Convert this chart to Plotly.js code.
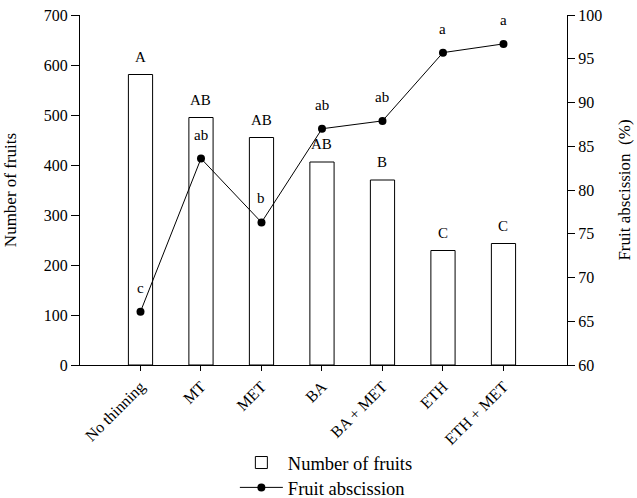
<!DOCTYPE html>
<html>
<head>
<meta charset="utf-8">
<script src="https://cdn.plot.ly/plotly-3.0.1.min.js"></script>
<style>html,body{margin:0;padding:0;background:#fff;}#chart{width:637px;height:498px;}</style>
</head>
<body>
<div id="chart"></div>
<script>
const categories = ['No thinning', 'MT', 'MET', 'BA', 'BA + MET', 'ETH', 'ETH + MET'];
const numberOfFruits = [581, 495, 455, 406, 370, 229, 243];
const fruitAbscission = [66.1, 83.6, 76.3, 87.0, 87.9, 95.7, 96.7];
const fruitLetters = ['A', 'AB', 'AB', 'AB', 'B', 'C', 'C'];
const abscissionLetters = ['c', 'ab', 'b', 'ab', 'ab', 'a', 'a'];
const leftTicks = [0, 100, 200, 300, 400, 500, 600, 700];
const rightTicks = [60, 65, 70, 75, 80, 85, 90, 95, 100];

const FONT = 'Liberation Serif, Times New Roman, serif';
const xIdx = categories.map((c, i) => i);

const traces = [
  {
    type: 'bar', x: xIdx, y: numberOfFruits, name: 'Number of fruits',
    width: 0.4, yaxis: 'y', legend: 'legend',
    marker: {color: '#ffffff', line: {color: '#000000', width: 1}}
  },
  {
    type: 'scatter', mode: 'lines+markers', x: xIdx, y: fruitAbscission,
    name: 'Fruit abscission', yaxis: 'y2', legend: 'legend2',
    line: {color: '#000000', width: 1},
    marker: {color: '#000000', size: 8}
  }
];

const annotations = [];
xIdx.forEach((xi, i) => {
  annotations.push({x: xi, y: numberOfFruits[i], xref: 'x', yref: 'y', text: fruitLetters[i],
    showarrow: false, yanchor: 'bottom', yshift: 8, font: {family: FONT, size: 15, color: '#000'}});
  annotations.push({x: xi, y: fruitAbscission[i], xref: 'x', yref: 'y2', text: abscissionLetters[i],
    showarrow: false, yanchor: 'bottom', yshift: 14, font: {family: FONT, size: 15, color: '#000'}});
});

const legendBase = {
  x: 0.318, xanchor: 'left', yanchor: 'middle',
  font: {family: FONT, size: 18.5, color: '#000'},
  itemwidth: 43, bgcolor: 'rgba(0,0,0,0)', borderwidth: 0
};

const layout = {
  width: 637, height: 498,
  margin: {l: 80, r: 70, t: 15, b: 133, autoexpand: false},
  paper_bgcolor: '#ffffff', plot_bgcolor: '#ffffff',
  font: {family: FONT, size: 16, color: '#000'},
  showlegend: true,
  bargap: 0,
  xaxis: {
    range: [-1, 7.05], tickmode: 'array', tickvals: xIdx, ticktext: categories,
    tickangle: -45, ticks: 'outside', ticklen: 5, tickcolor: '#000',
    showline: true, linecolor: '#000', linewidth: 1, showgrid: false, zeroline: false,
    tickfont: {family: FONT, size: 16, color: '#000'}
  },
  yaxis: {
    range: [0, 700], tickvals: leftTicks, ticks: 'outside', ticklen: 8, tickcolor: '#000',
    showline: true, linecolor: '#000', linewidth: 1, showgrid: false, zeroline: false,
    tickfont: {family: FONT, size: 16, color: '#000'},
    title: {text: 'Number of fruits', font: {family: FONT, size: 17, color: '#000'}, standoff: 22}
  },
  yaxis2: {
    range: [60, 100], tickvals: rightTicks, overlaying: 'y', side: 'right',
    ticks: 'outside', ticklen: 7, tickcolor: '#000',
    showline: true, linecolor: '#000', linewidth: 1, showgrid: false, zeroline: false,
    tickfont: {family: FONT, size: 16, color: '#000'},
    title: {text: 'Fruit abscission&nbsp;&nbsp;(%)', font: {family: FONT, size: 17, color: '#000'}, standoff: 16}
  },
  legend: Object.assign({}, legendBase, {y: -0.28}),
  legend2: Object.assign({}, legendBase, {y: -0.351}),
  annotations: annotations
};

Plotly.newPlot('chart', traces, layout, {displayModeBar: false, staticPlot: true});
</script>
</body>
</html>
